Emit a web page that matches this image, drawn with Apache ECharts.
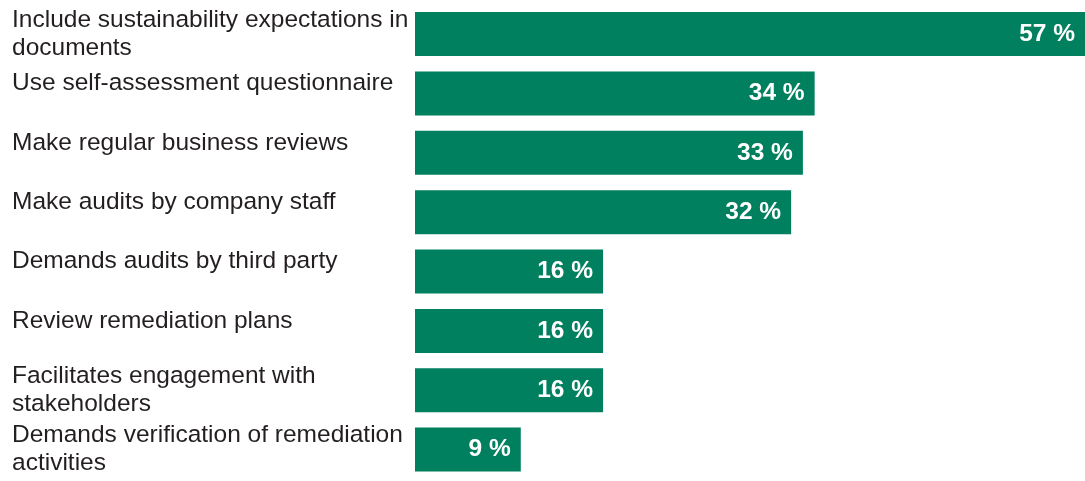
<!DOCTYPE html>
<html>
<head>
<meta charset="utf-8">
<script src="https://cdn.jsdelivr.net/npm/echarts@6/dist/echarts.min.js"></script>
<style>
html,body{margin:0;padding:0;background:#fff;}
#chart{width:1085px;height:481px;}
</style>
</head>
<body>
<div id="chart"></div>
<script>
const categories = [
  "Include sustainability expectations in\ndocuments",
  "Use self-assessment questionnaire",
  "Make regular business reviews",
  "Make audits by company staff",
  "Demands audits by third party",
  "Review remediation plans",
  "Facilitates engagement with\nstakeholders",
  "Demands verification of remediation\nactivities"
];
const values = [57, 34, 33, 32, 16, 16, 16, 9];

const FONT = '"Liberation Sans", Arial, Helvetica, sans-serif';
const chart = echarts.init(document.getElementById('chart'), null, {renderer: 'canvas'});
chart.setOption({
  animation: false,
  grid: {left: 415, width: 672, top: 4.4, bottom: 1.7, containLabel: false},
  xAxis: {
    type: 'value', min: 0, max: 57,
    show: false
  },
  yAxis: {
    type: 'category',
    data: categories,
    inverse: true,
    axisLine: {show: false},
    axisTick: {show: false},
    splitLine: {show: false},
    axisLabel: {
      align: 'left',
      margin: 403,
      fontFamily: FONT,
      fontSize: 24.5,
      lineHeight: 28,
      color: '#231f20',
      formatter: v => v.indexOf('\n') >= 0 ? '{m|' + v.replace('\n', '}\n{m|') + '}' : '{s|' + v + '}',
      rich: {
        m: {fontFamily: FONT, fontSize: 24.5, lineHeight: 28, color: '#231f20'},
        s: {fontFamily: FONT, fontSize: 24.5, lineHeight: 28, color: '#231f20', padding: [0, 0, 20, 0]}
      }
    }
  },
  series: [{
    type: 'bar',
    data: values,
    barWidth: 44,
    itemStyle: {color: '#00805f'},
    label: {
      show: true,
      position: 'insideRight',
      distance: 10,
      formatter: p => p.value + ' %',
      color: '#ffffff',
      fontWeight: 'bold',
      fontSize: 24.5,
      fontFamily: FONT
    }
  }]
});
</script>
</body>
</html>
